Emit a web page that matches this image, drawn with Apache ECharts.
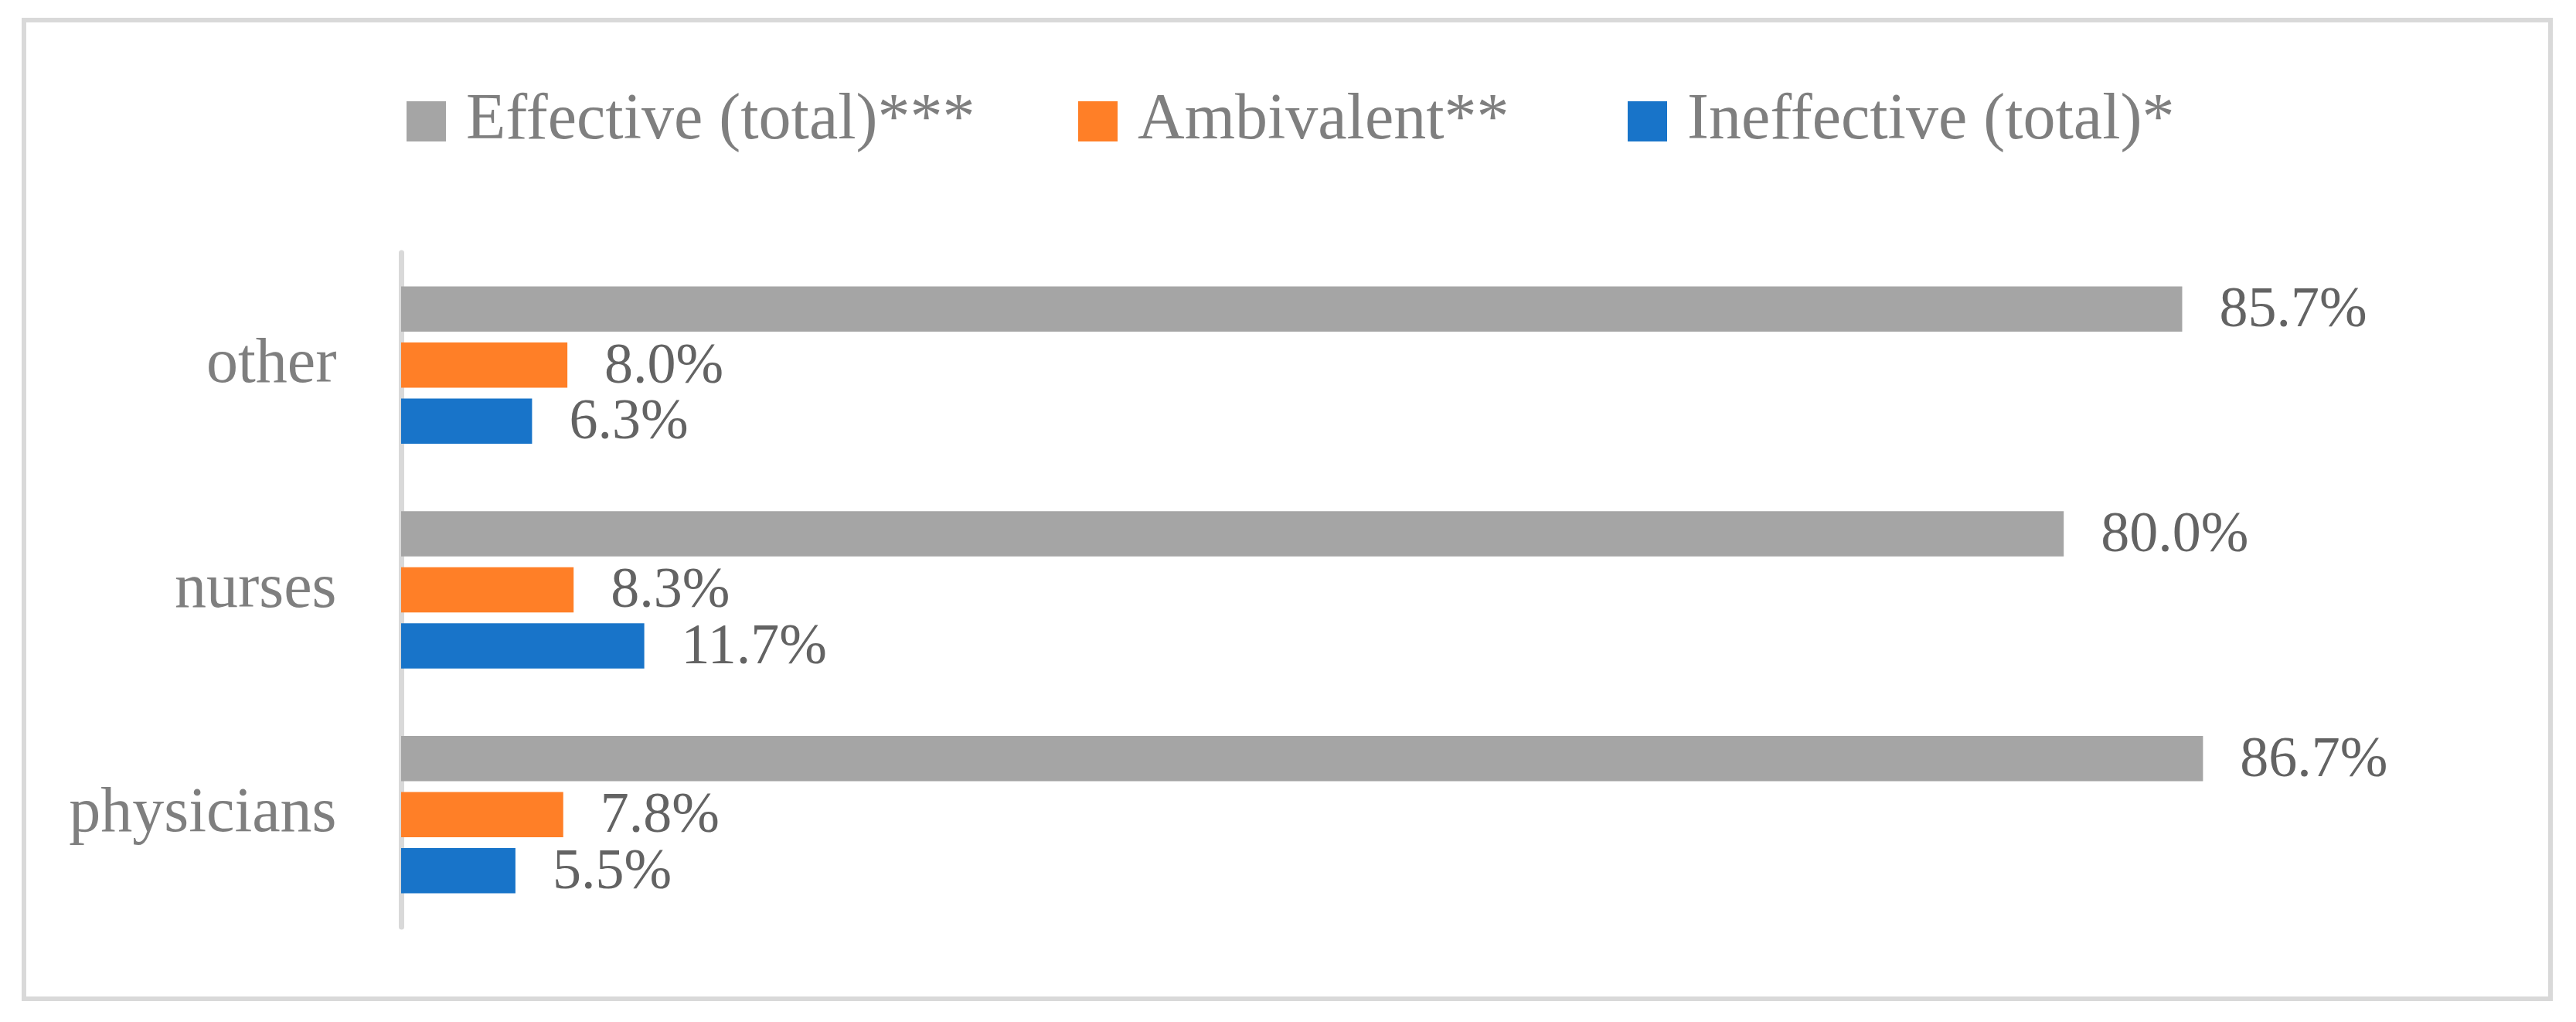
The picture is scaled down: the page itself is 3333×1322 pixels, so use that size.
<!DOCTYPE html>
<html>
<head>
<meta charset="utf-8">
<script src="https://cdn.jsdelivr.net/npm/echarts@6/dist/echarts.min.js"></script>
<style>
  html, body { margin: 0; padding: 0; background: #fff; }
  #chart { width: 3333px; height: 1322px; }
</style>
</head>
<body>
<div id="chart"></div>
<script>
// categories bottom -> top (category axis starts at the bottom)
const categories = ['physicians', 'nurses', 'other'];
const seriesNames = ['Effective (total)***', 'Ambivalent**', 'Ineffective (total)*'];
const effective = [86.7, 80.0, 85.7];
const ambivalent = [7.8, 8.3, 8.0];
const ineffective = [5.5, 11.7, 6.3];

const colors = ['#A5A5A5', '#FF7F27', '#1874C9'];
const serif = '"Liberation Serif", "DejaVu Serif", serif';

const myChart = echarts.init(document.getElementById('chart'));

const labelStyle = {
    show: true,
    position: 'right',
    distance: 48,
    offset: [0, 3],
    color: '#636363',
    fontFamily: serif,
    fontSize: 74,
    formatter: p => p.value.toFixed(1) + '%'
};

// one legend per item so each sits where it does in the picture
const legendLeft = [526, 1395, 2106];
const legends = seriesNames.map((name, i) => ({
    data: [name],
    left: legendLeft[i],
    top: 115,
    padding: 0,
    icon: 'rect',
    itemWidth: 51,
    itemHeight: 52,
    selectedMode: false,
    textStyle: {
        color: '#7f7f7f',
        fontFamily: serif,
        fontSize: 84,
        padding: [0, 0, 0, 21]
    }
}));

const option = {
    animation: false,
    color: colors,
    legend: legends,
    graphic: [{
        type: 'rect',
        shape: { x: 31, y: 26, width: 3269, height: 1266 },
        style: { fill: 'none', stroke: '#D9D9D9', lineWidth: 6 },
        silent: true
    }],
    grid: {
        left: 519,
        right: 125,
        top: 327,
        bottom: 123
    },
    xAxis: {
        type: 'value',
        min: 0,
        max: 100,
        show: false
    },
    yAxis: {
        type: 'category',
        data: categories,
        offset: 3.5,
        axisLine: {
            lineStyle: { color: '#D9D9D9', width: 7 }
        },
        axisTick: { show: false },
        axisLabel: {
            margin: 80,
            color: '#7f7f7f',
            fontFamily: serif,
            fontSize: 82
        }
    },
    series: [
        {
            name: seriesNames[0],
            type: 'bar',
            data: effective,
            barCategoryGap: '30%',
            barGap: '24%',
            label: labelStyle
        },
        {
            name: seriesNames[1],
            type: 'bar',
            data: ambivalent,
            barCategoryGap: '30%',
            barGap: '24%',
            label: labelStyle
        },
        {
            name: seriesNames[2],
            type: 'bar',
            data: ineffective,
            barCategoryGap: '30%',
            barGap: '24%',
            label: labelStyle
        }
    ]
};

option && myChart.setOption(option);
</script>
</body>
</html>
